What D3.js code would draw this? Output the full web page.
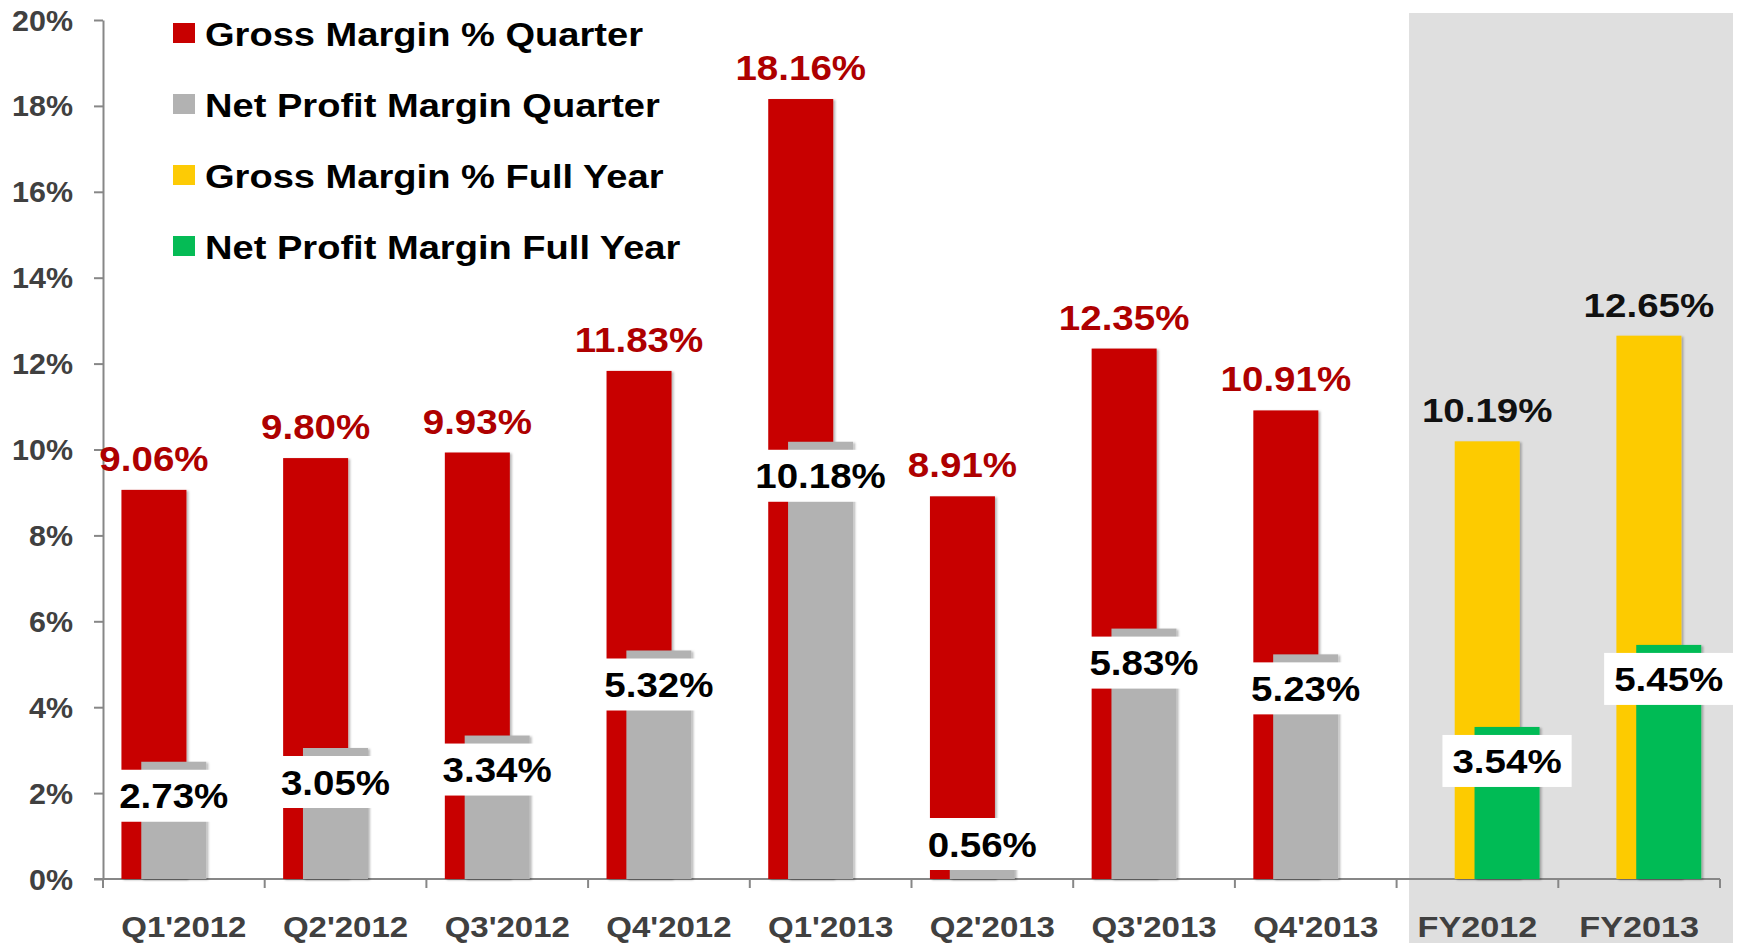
<!DOCTYPE html>
<html>
<head>
<meta charset="utf-8">
<script src="https://cdn.jsdelivr.net/npm/d3@7"></script>
<style>
  html, body { margin: 0; padding: 0; background: #ffffff; }
  svg { display: block; font-family: "Liberation Sans", Arial, sans-serif; }
</style>
</head>
<body>
<svg id="chart" width="1742" height="943"></svg>
<script>
// ---------------- data ----------------
const categories = ["Q1'2012", "Q2'2012", "Q3'2012", "Q4'2012", "Q1'2013", "Q2'2013", "Q3'2013", "Q4'2013", "FY2012", "FY2013"];
const gmQuarter  = [9.06, 9.80, 9.93, 11.83, 18.16, 8.91, 12.35, 10.91, null, null];
const npQuarter  = [2.73, 3.05, 3.34, 5.32, 10.18, 0.56, 5.83, 5.23, null, null];
const gmFullYear = [null, null, null, null, null, null, null, null, 10.19, 12.65];
const npFullYear = [null, null, null, null, null, null, null, null, 3.54, 5.45];
const yTicks     = [0, 2, 4, 6, 8, 10, 12, 14, 16, 18, 20];
const seriesNames = ["Gross Margin % Quarter", "Net Profit Margin Quarter", "Gross Margin % Full Year", "Net Profit Margin Full Year"];
const fullYearCategories = ["FY2012", "FY2013"];

// ---------------- styles ----------------
const colors = { gmQ: "#C80000", npQ: "#B2B2B2", gmFY: "#FDCB05", npFY: "#05BB55" };
const series = [
  { key: "gmQ",  name: seriesNames[0], values: gmQuarter,  kind: "gross", labelColor: "#AE0000", fy: false },
  { key: "npQ",  name: seriesNames[1], values: npQuarter,  kind: "net",   labelColor: "#000000", fy: false },
  { key: "gmFY", name: seriesNames[2], values: gmFullYear, kind: "gross", labelColor: "#111111", fy: true },
  { key: "npFY", name: seriesNames[3], values: npFullYear, kind: "net",   labelColor: "#000000", fy: true }
];

const svg = d3.select("#chart");
const W = 1742, H = 943;
const plot = { left: 103, right: 1720, top: 20, bottom: 879 };

const x = d3.scaleBand().domain(categories).range([plot.left, plot.right]).paddingInner(0).paddingOuter(0);
const bw = x.bandwidth();
const xSub = d3.scalePoint().domain(series.map(s => s.key)).range([0.114 * bw, 0.482 * bw]);
const barW = 0.402 * bw;
const y = d3.scaleLinear().domain([0, 20]).range([plot.bottom, plot.top]);
const fmt = v => d3.format(".2f")(v) + "%";

// shadow filter
const defs = svg.append("defs");
const f = defs.append("filter").attr("id", "shadow").attr("x", "-10%").attr("y", "-10%").attr("width", "130%").attr("height", "130%");
f.append("feDropShadow").attr("dx", 2).attr("dy", 1).attr("stdDeviation", 1.2).attr("flood-color", "#000").attr("flood-opacity", 0.28);

// stretched text helper
function stext(g, tx, ty, str, opts) {
  return g.append("text")
    .attr("transform", `translate(${tx},${ty}) scale(${opts.stretch || 1},1)`)
    .attr("text-anchor", opts.anchor || "middle")
    .attr("font-size", opts.size)
    .attr("font-weight", opts.weight || "bold")
    .attr("fill", opts.fill || "#000")
    .text(str);
}

// full year shaded panel
const fyStart = x(fullYearCategories[0]);
svg.append("rect")
  .attr("x", fyStart + 0.077 * bw)
  .attr("y", 13)
  .attr("width", (x(fullYearCategories[1]) + bw + 13) - (fyStart + 0.077 * bw))
  .attr("height", H - 13)
  .attr("fill", "#DFDFDF");

// axes
const axisColor = "#878787";
const yAxis = d3.axisLeft(y).tickValues(yTicks).tickSize(9).tickSizeOuter(0).tickFormat("");
const yg = svg.append("g").attr("transform", `translate(${plot.left},0)`).call(yAxis);
yg.select(".domain").attr("stroke", axisColor).attr("stroke-width", 2);
yg.selectAll(".tick line").attr("stroke", axisColor).attr("stroke-width", 2);

const tickG = svg.append("g");
yTicks.forEach(t => {
  stext(tickG, 73, y(t) + 10.5, t + "%", { size: 29, stretch: 1.05, anchor: "end", fill: "#404040" });
});

// x axis line and ticks at band boundaries
const xEdges = categories.map(c => x(c)).concat([x(categories[categories.length - 1]) + bw]);
svg.append("line")
  .attr("x1", plot.left - 9).attr("x2", plot.right)
  .attr("y1", y(0)).attr("y2", y(0))
  .attr("stroke", axisColor).attr("stroke-width", 2);
svg.append("g").selectAll("line").data(xEdges).join("line")
  .attr("x1", d => d).attr("x2", d => d)
  .attr("y1", y(0)).attr("y2", y(0) + 9)
  .attr("stroke", axisColor).attr("stroke-width", 2);

// category labels
const catG = svg.append("g");
categories.forEach(c => {
  const isFY = fullYearCategories.includes(c);
  stext(catG, x(c) + bw / 2, 937, c, { size: 30, stretch: isFY ? 1.14 : 1.1, fill: "#404040" });
});

// bars
const barsG = svg.append("g");
series.forEach(s => {
  const data = categories.map((c, i) => ({ c, v: s.values[i] })).filter(d => d.v != null);
  barsG.selectAll(null).data(data).join("rect")
    .attr("x", d => x(d.c) + xSub(s.key))
    .attr("y", d => y(d.v))
    .attr("width", barW)
    .attr("height", d => y(0) - y(d.v))
    .attr("fill", colors[s.key])
    .attr("filter", "url(#shadow)");
});

// labels
const labG = svg.append("g");
series.forEach(s => {
  const data = categories.map((c, i) => ({ c, v: s.values[i] })).filter(d => d.v != null);
  data.forEach(d => {
    const cx = x(d.c) + xSub(s.key) + barW / 2;
    const top = y(d.v);
    const stretch = s.fy ? 1.15 : 1.1;
    if (s.kind === "gross") {
      stext(labG, cx, top - 19, fmt(d.v), { size: s.fy ? 33.5 : 35, stretch, fill: s.labelColor });
    } else {
      const cy = Math.min(top + 34, y(0) - 35);
      const size = s.fy ? 33.5 : 35;
      const g = labG.append("g");
      const box = g.append("rect").attr("fill", "#ffffff");
      const t = stext(g, cx, cy + size * 0.36, fmt(d.v), { size, stretch, fill: s.labelColor });
      const tw = t.node().getComputedTextLength() * stretch;
      const pad = s.fy ? 10 : 5;
      box.attr("x", cx - tw / 2 - pad).attr("y", cy - 26).attr("width", tw + 2 * pad).attr("height", 52);
    }
  });
});

// legend
const legG = svg.append("g");
series.forEach((s, i) => {
  const cy = 33 + i * 71;
  legG.append("rect").attr("x", 173).attr("y", cy - 10).attr("width", 22).attr("height", 20).attr("fill", colors[s.key]);
  stext(legG, 205, cy + 12.5, s.name, { size: 34, stretch: 1.12, anchor: "start", fill: "#000" });
});
</script>
</body>
</html>
